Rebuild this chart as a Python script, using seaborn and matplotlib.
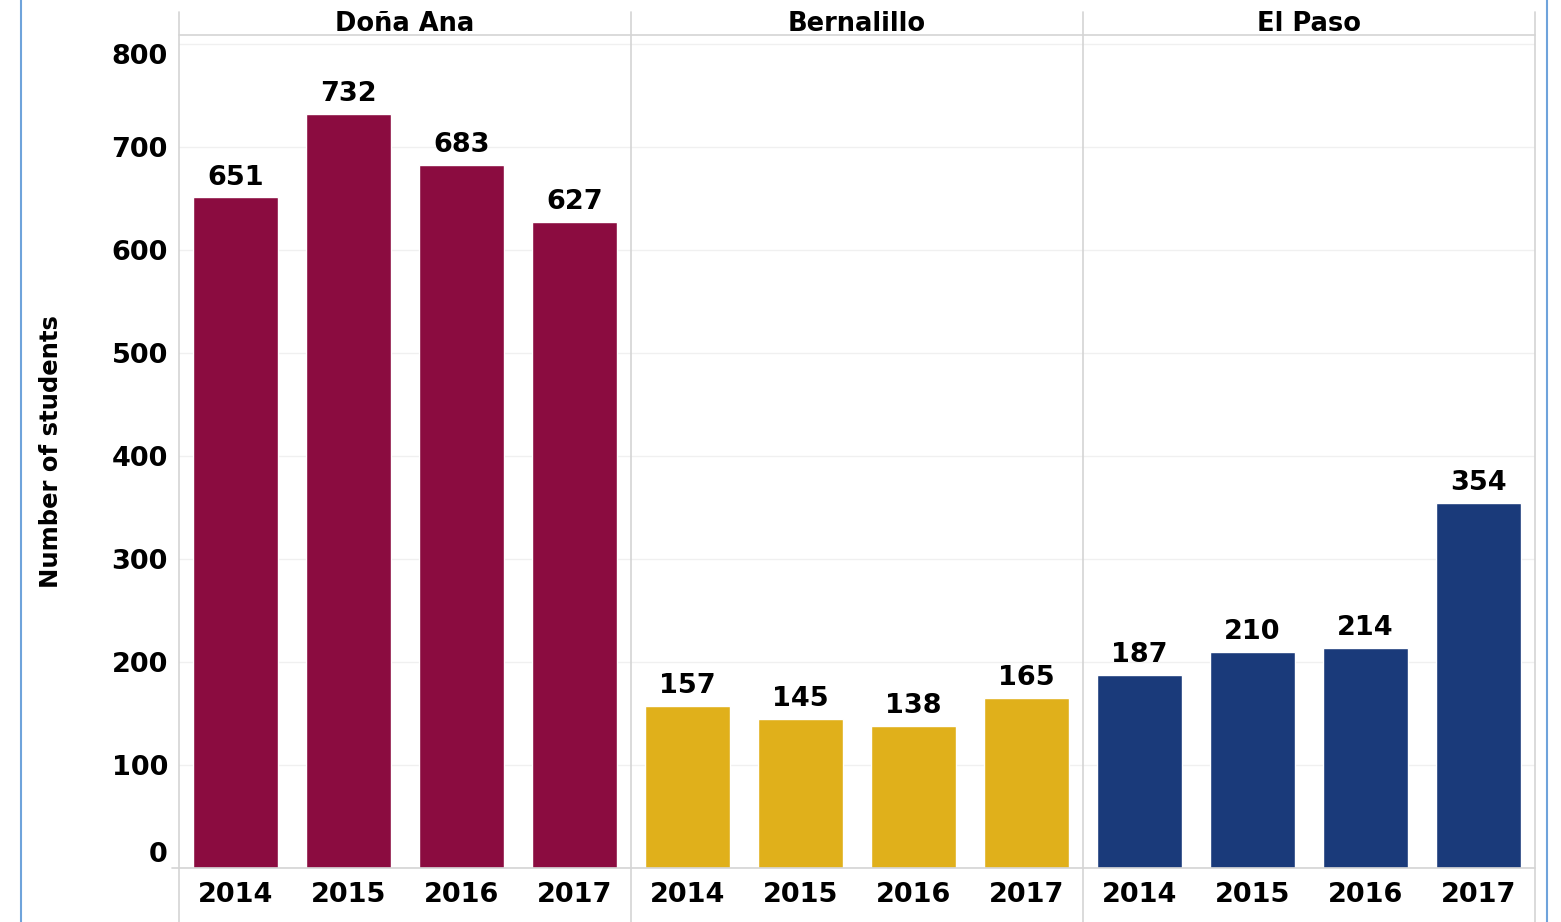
'''three-county faceted bar chart of student counts'''
import pandas as pd
import seaborn as sns
import matplotlib.pyplot as plt
from matplotlib.lines import Line2D

#region data
COUNTIES = ['Doña Ana', 'Bernalillo', 'El Paso']
YEARS = ['2014', '2015', '2016', '2017']
DONA_ANA = [651, 732, 683, 627]
BERNALILLO = [157, 145, 138, 165]
EL_PASO = [187, 210, 214, 354]
COLOURS = ['#8B0C40', '#E0B01B', '#1A3A7A']
Y_TICKS = [0, 100, 200, 300, 400, 500, 600, 700, 800]
#endregion

W, H = 1561, 922
sns.set_theme(style='white')
plt.rcParams['font.family'] = ['DejaVu Sans']
plt.rcParams['text.color'] = 'black'
plt.rcParams['xtick.color'] = 'black'
plt.rcParams['ytick.color'] = 'black'
plt.rcParams['axes.labelcolor'] = 'black'

df = pd.DataFrame({
    'county': [c for c in COUNTIES for _ in YEARS],
    'year': YEARS * 3,
    'students': DONA_ANA + BERNALILLO + EL_PASO,
})

fig = plt.figure(figsize=(W / 100, H / 100), dpi=100)

# pixel geometry of the panel area
x0, x1 = 179, 1535
ytop, ybot = 35, 868
pw = (x1 - x0) / 3.0


def fx(px):
    return px / W


def fy(py):
    return 1 - py / H


for i, county in enumerate(COUNTIES):
    ax = fig.add_axes([fx(x0 + i * pw), fy(ybot), pw / W, (ybot - ytop) / H])
    sub = df[df['county'] == county]
    sns.barplot(data=sub, x='year', y='students', color=COLOURS[i],
                width=0.76, saturation=1, ax=ax, order=YEARS)
    ax.set_ylim(0, (ybot - ytop) / 1.03)
    ax.set_xlim(-0.5, 3.5)
    ax.set_yticks(Y_TICKS)
    ax.grid(axis='y', color='#f0f0f0', linewidth=1)
    ax.set_axisbelow(True)
    for s in ax.spines.values():
        s.set_visible(False)
    ax.set_xlabel('')
    ax.set_ylabel('')
    ax.tick_params(axis='x', length=0, pad=10, labelsize=19.5)
    for lab in ax.get_xticklabels():
        lab.set_fontweight('bold')
    ax.bar_label(ax.containers[0], padding=5, fontsize=19.5, fontweight='bold')
    ax.text(0.5, 1 + 11 / (ybot - ytop), county, transform=ax.transAxes,
            ha='center', va='center', fontsize=18.5, fontweight='bold')
    if i == 0:
        ax.tick_params(axis='y', length=0, pad=8, labelsize=19.5)
        labs = ax.get_yticklabels()
        for lab in labs:
            lab.set_fontweight('bold')
        labs[0].set_va('bottom')
        labs[-1].set_va('top')
        ax.set_ylabel('Number of students', fontsize=17.5, fontweight='bold',
                      labelpad=35)
    else:
        ax.tick_params(axis='y', left=False, labelleft=False)

# frame lines, as in the Tableau layout
grey = '#d4d4d4'
for px in [x0, x0 + pw, x0 + 2 * pw, x1]:
    fig.add_artist(Line2D([fx(px), fx(px)], [fy(12), 0], color=grey, lw=1.2))
fig.add_artist(Line2D([fx(x0), fx(x1)], [fy(ytop), fy(ytop)], color=grey, lw=1.2))
fig.add_artist(Line2D([fx(172), fx(x1)], [fy(ybot), fy(ybot)], color=grey, lw=1.2))
for px in [21, 1547]:
    fig.add_artist(Line2D([fx(px), fx(px)], [0, 1], color='#6fa3db', lw=1.5))

plt.savefig('out.png', dpi=100)
